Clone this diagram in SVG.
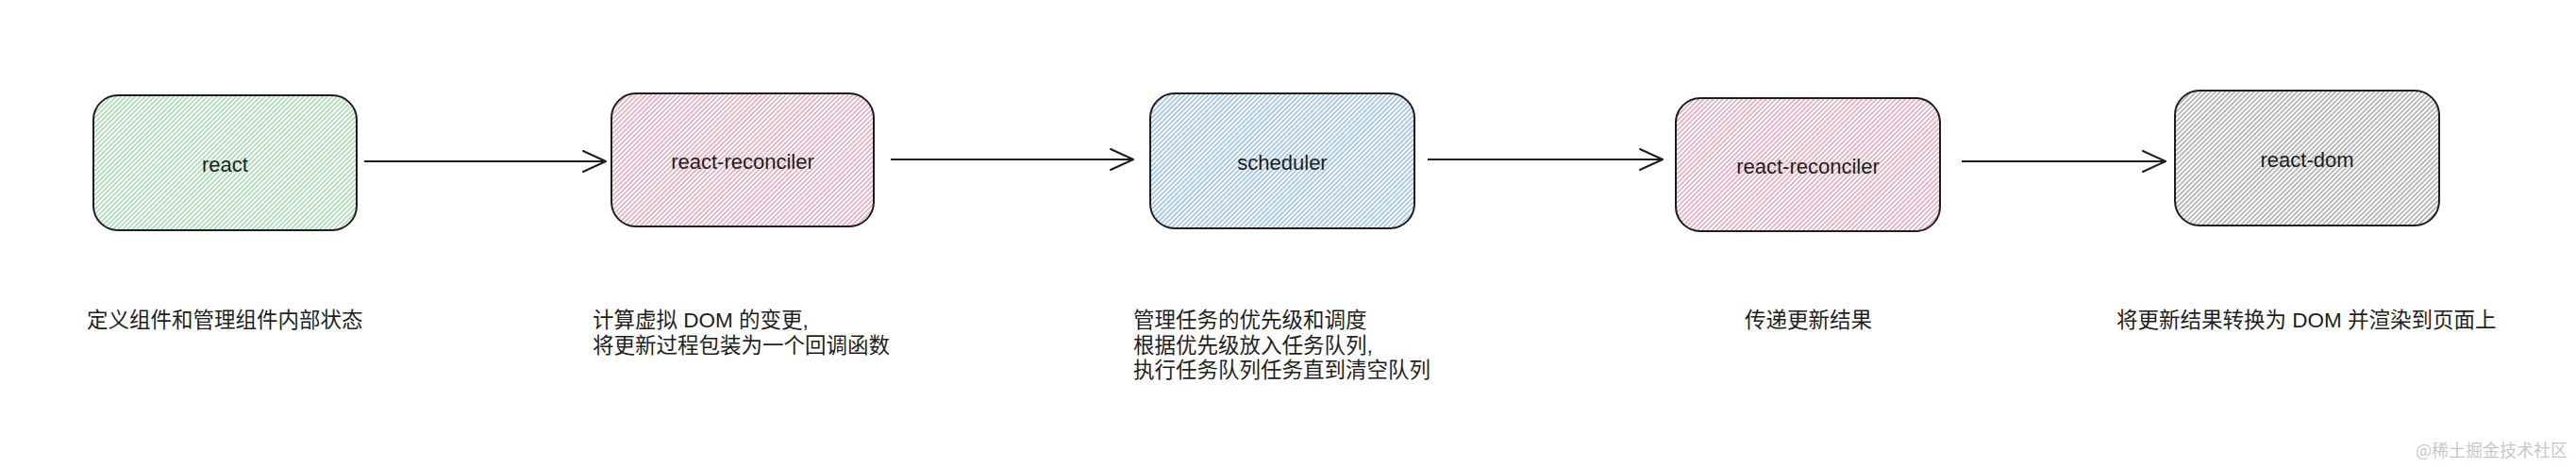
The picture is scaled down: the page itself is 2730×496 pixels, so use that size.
<svg xmlns="http://www.w3.org/2000/svg" width="2730" height="496" viewBox="0 0 2730 496">
<defs>
<pattern id="hG" patternUnits="userSpaceOnUse" width="3.6" height="10" patternTransform="rotate(45)"><line x1="1" y1="0" x2="1" y2="10" stroke="#92d19e" stroke-width="1.3"/></pattern>
<pattern id="hP" patternUnits="userSpaceOnUse" width="3.6" height="10" patternTransform="rotate(45)"><line x1="1" y1="0" x2="1" y2="10" stroke="#dc95ab" stroke-width="1.3"/></pattern>
<pattern id="hB" patternUnits="userSpaceOnUse" width="3.6" height="10" patternTransform="rotate(45)"><line x1="1" y1="0" x2="1" y2="10" stroke="#82b1e2" stroke-width="1.3"/></pattern>
<pattern id="hK" patternUnits="userSpaceOnUse" width="3.6" height="10" patternTransform="rotate(45)"><line x1="1" y1="0" x2="1" y2="10" stroke="#999999" stroke-width="1.3"/></pattern>
<marker id="arr" markerWidth="30" markerHeight="30" refX="26" refY="13" orient="auto" markerUnits="userSpaceOnUse"><path d="M2,2 L26,13 L2,24" fill="none" stroke="#1e1e1e" stroke-width="2" stroke-linecap="round" stroke-linejoin="round"/></marker>
</defs>
<style>
.box{stroke:#1e1e1e;stroke-width:2;}
.lbl{font-family:"Liberation Sans","Noto Sans CJK SC",sans-serif;font-size:22px;fill:#1e1e1e;text-anchor:middle;}
.desc{font-family:"Liberation Sans","Noto Sans CJK SC",sans-serif;font-size:22.5px;fill:#1e1e1e;}
.wm{font-family:"Noto Sans CJK SC",sans-serif;font-size:18px;fill:#c8c8c8;}
.conn{stroke:#1e1e1e;stroke-width:2;fill:none;marker-end:url(#arr);}
</style>
<rect width="2730" height="496" fill="#ffffff"/>
<g id="node-react">
<rect class="box" x="99" y="101" width="279" height="143" rx="26" fill="url(#hG)"/>
<text class="lbl" x="238.5" y="182">react</text>
</g>
<g id="node-reconciler-1">
<rect class="box" x="648" y="99" width="278" height="141" rx="26" fill="url(#hP)"/>
<text class="lbl" x="787" y="179">react-reconciler</text>
</g>
<g id="node-scheduler">
<rect class="box" x="1219" y="99" width="280" height="143" rx="26" fill="url(#hB)"/>
<text class="lbl" x="1359" y="180">scheduler</text>
</g>
<g id="node-reconciler-2">
<rect class="box" x="1776" y="104" width="280" height="141" rx="26" fill="url(#hP)"/>
<text class="lbl" x="1916" y="184">react-reconciler</text>
</g>
<g id="node-react-dom">
<rect class="box" x="2305" y="96" width="280" height="143" rx="26" fill="url(#hK)"/>
<text class="lbl" x="2445" y="177">react-dom</text>
</g>
<g id="connectors">
<line class="conn" x1="386" y1="171" x2="642" y2="171"/>
<line class="conn" x1="944" y1="169" x2="1201" y2="169"/>
<line class="conn" x1="1513" y1="169" x2="1762" y2="169"/>
<line class="conn" x1="2079" y1="171" x2="2295" y2="171"/>
</g>
<g id="descriptions">
<text class="desc" x="92" y="347">定义组件和管理组件内部状态</text>
<text class="desc" x="628" y="347">计算虚拟 DOM 的变更,</text>
<text class="desc" x="628" y="374">将更新过程包装为一个回调函数</text>
<text class="desc" x="1201" y="347">管理任务的优先级和调度</text>
<text class="desc" x="1201" y="374">根据优先级放入任务队列,</text>
<text class="desc" x="1201" y="400">执行任务队列任务直到清空队列</text>
<text class="desc" x="1849" y="347">传递更新结果</text>
<text class="desc" x="2243" y="347">将更新结果转换为 DOM 并渲染到页面上</text>
</g>
<text class="wm" x="2560" y="484">@稀土掘金技术社区</text>
</svg>
